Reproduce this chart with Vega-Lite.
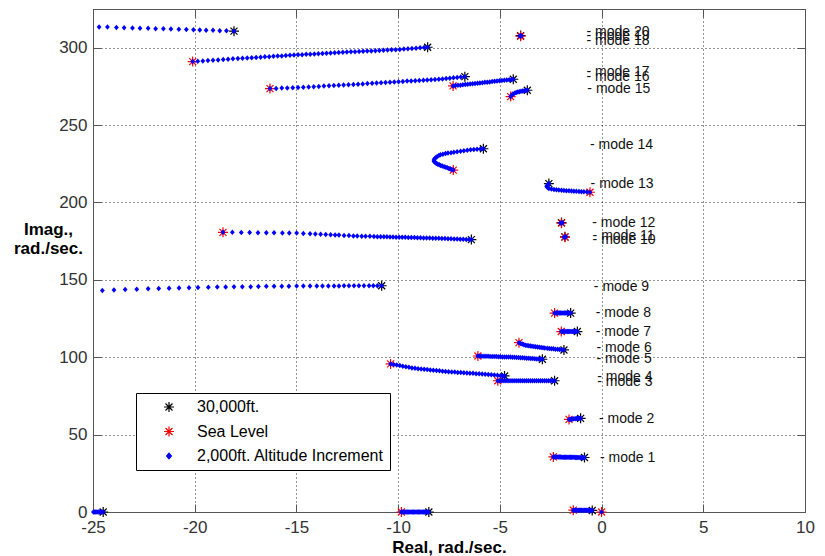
{
"$schema": "https://vega.github.io/schema/vega-lite/v6.json",
"width": 712, "height": 503,
"autosize": "none",
"padding": {"left": 93, "top": 9, "right": 20, "bottom": 44},
"background": "white",
"config": {
  "view": {"stroke": "#555", "strokeWidth": 1},
  "font": "Liberation Sans",
  "axis": {"domainColor": "#555", "tickColor": "#555", "labelColor": "#333", "labelFontSize": 17, "labelFont": "Liberation Sans", "gridColor": "#000", "gridDash": [1, 3], "gridOpacity": 0.85, "gridWidth": 1, "tickSize": -8, "titleFont": "Liberation Sans", "titleFontSize": 17, "titleFontWeight": "bold", "titleColor": "#000", "labelFlush": false, "labelOverlap": false, "labelExpr": "toString(datum.value)"},
  "legend": {"orient": "none", "legendX": 43, "legendY": 384, "strokeColor": "#000", "fillColor": "#fff", "padding": 6, "labelFontSize": 16, "labelFont": "Liberation Sans", "labelColor": "#000", "labelLimit": 0, "symbolStrokeWidth": 1.2, "rowPadding": 8.5, "symbolOffset": 19, "labelOffset": 20, "cornerRadius": 0}
},
"datasets": {
"ends": [
{"x":-18.07,"y":310.7,"s":"a"},{"x":-8.55,"y":300.3,"s":"a"},{"x":-6.72,"y":281.3,"s":"a"},{"x":-4.34,"y":279.6,"s":"a"},{"x":-3.65,"y":272.5,"s":"a"},{"x":-3.98,"y":307.8,"s":"a"},{"x":-5.81,"y":234.7,"s":"a"},{"x":-2.59,"y":212.2,"s":"a"},{"x":-1.97,"y":187.0,"s":"a"},{"x":-1.8,"y":177.8,"s":"a"},{"x":-6.4,"y":176.0,"s":"a"},{"x":-10.81,"y":146.2,"s":"a"},{"x":-1.52,"y":128.5,"s":"a"},{"x":-1.19,"y":116.6,"s":"a"},{"x":-1.85,"y":104.7,"s":"a"},{"x":-2.91,"y":98.7,"s":"a"},{"x":-4.77,"y":87.9,"s":"a"},{"x":-2.31,"y":84.8,"s":"a"},{"x":-1.03,"y":60.5,"s":"a"},{"x":-0.84,"y":35.2,"s":"a"},{"x":-24.5,"y":0,"s":"a"},{"x":-8.49,"y":0,"s":"a"},{"x":-0.46,"y":1.0,"s":"a"},
{"x":-20.1,"y":291.0,"s":"b"},{"x":-16.3,"y":273.6,"s":"b"},{"x":-7.3,"y":275.3,"s":"b"},{"x":-4.47,"y":268.4,"s":"b"},{"x":-3.98,"y":307.4,"s":"b"},{"x":-7.29,"y":220.9,"s":"b"},{"x":-0.57,"y":206.6,"s":"b"},{"x":-1.97,"y":186.6,"s":"b"},{"x":-1.8,"y":177.6,"s":"b"},{"x":-18.61,"y":180.7,"s":"b"},{"x":-2.31,"y":128.5,"s":"b"},{"x":-1.98,"y":116.6,"s":"b"},{"x":-4.06,"y":109.4,"s":"b"},{"x":-6.08,"y":100.8,"s":"b"},{"x":-10.37,"y":95.7,"s":"b"},{"x":-5.1,"y":84.8,"s":"b"},{"x":-1.6,"y":59.8,"s":"b"},{"x":-2.37,"y":35.6,"s":"b"},{"x":-9.84,"y":0,"s":"b"},{"x":0.0,"y":0.0,"s":"b"},{"x":-1.39,"y":1.2,"s":"b"}
],
"dots": [
{"x":-24.70,"y":313.4,"s":"c"},{"x":-24.29,"y":313.3,"s":"c"},{"x":-23.85,"y":313.1,"s":"c"},{"x":-23.47,"y":312.9,"s":"c"},{"x":-23.06,"y":312.8,"s":"c"},{"x":-22.69,"y":312.6,"s":"c"},{"x":-22.29,"y":312.5,"s":"c"},{"x":-21.92,"y":312.3,"s":"c"},{"x":-21.54,"y":312.2,"s":"c"},{"x":-21.17,"y":312.0,"s":"c"},{"x":-20.78,"y":311.9,"s":"c"},{"x":-20.41,"y":311.8,"s":"c"},{"x":-20.06,"y":311.6,"s":"c"},{"x":-19.75,"y":311.5,"s":"c"},{"x":-19.44,"y":311.3,"s":"c"},{"x":-19.10,"y":311.2,"s":"c"},{"x":-18.77,"y":311.0,"s":"c"},{"x":-18.44,"y":310.9,"s":"c"},{"x":-18.07,"y":310.7,"s":"c"},
{"x":-20.1,"y":291.0,"s":"c"},{"x":-19.85,"y":291.2,"s":"c"},{"x":-19.6,"y":291.4,"s":"c"},{"x":-19.35,"y":291.7,"s":"c"},{"x":-19.1,"y":291.9,"s":"c"},{"x":-18.85,"y":292.1,"s":"c"},{"x":-18.6,"y":292.3,"s":"c"},{"x":-18.36,"y":292.5,"s":"c"},{"x":-18.12,"y":292.8,"s":"c"},{"x":-17.88,"y":293.0,"s":"c"},{"x":-17.65,"y":293.2,"s":"c"},{"x":-17.42,"y":293.4,"s":"c"},{"x":-17.2,"y":293.5,"s":"c"},{"x":-16.98,"y":293.7,"s":"c"},{"x":-16.76,"y":293.9,"s":"c"},{"x":-16.55,"y":294.1,"s":"c"},{"x":-16.34,"y":294.2,"s":"c"},{"x":-16.13,"y":294.4,"s":"c"},{"x":-15.92,"y":294.6,"s":"c"},{"x":-15.72,"y":294.7,"s":"c"},{"x":-15.52,"y":294.9,"s":"c"},{"x":-15.32,"y":295.1,"s":"c"},{"x":-15.12,"y":295.2,"s":"c"},{"x":-14.92,"y":295.4,"s":"c"},{"x":-14.72,"y":295.5,"s":"c"},{"x":-14.52,"y":295.7,"s":"c"},{"x":-14.32,"y":295.8,"s":"c"},{"x":-14.12,"y":296.0,"s":"c"},{"x":-13.92,"y":296.1,"s":"c"},{"x":-13.72,"y":296.3,"s":"c"},{"x":-13.52,"y":296.4,"s":"c"},{"x":-13.32,"y":296.6,"s":"c"},{"x":-13.12,"y":296.7,"s":"c"},{"x":-12.92,"y":296.9,"s":"c"},{"x":-12.72,"y":297.0,"s":"c"},{"x":-12.52,"y":297.2,"s":"c"},{"x":-12.32,"y":297.3,"s":"c"},{"x":-12.12,"y":297.4,"s":"c"},{"x":-11.92,"y":297.6,"s":"c"},{"x":-11.72,"y":297.7,"s":"c"},{"x":-11.52,"y":297.8,"s":"c"},{"x":-11.32,"y":297.9,"s":"c"},{"x":-11.12,"y":298.1,"s":"c"},{"x":-10.92,"y":298.2,"s":"c"},{"x":-10.72,"y":298.3,"s":"c"},{"x":-10.52,"y":298.5,"s":"c"},{"x":-10.32,"y":298.6,"s":"c"},{"x":-10.12,"y":298.7,"s":"c"},{"x":-9.92,"y":298.9,"s":"c"},{"x":-9.72,"y":299.1,"s":"c"},{"x":-9.52,"y":299.3,"s":"c"},{"x":-9.32,"y":299.5,"s":"c"},{"x":-9.12,"y":299.7,"s":"c"},{"x":-8.92,"y":299.9,"s":"c"},{"x":-8.72,"y":300.1,"s":"c"},{"x":-8.55,"y":300.3,"s":"c"},
{"x":-16.3,"y":273.6,"s":"c"},{"x":-16.0,"y":273.7,"s":"c"},{"x":-15.72,"y":273.9,"s":"c"},{"x":-15.45,"y":274.0,"s":"c"},{"x":-15.18,"y":274.1,"s":"c"},{"x":-14.92,"y":274.3,"s":"c"},{"x":-14.66,"y":274.4,"s":"c"},{"x":-14.4,"y":274.6,"s":"c"},{"x":-14.15,"y":274.8,"s":"c"},{"x":-13.9,"y":275.0,"s":"c"},{"x":-13.65,"y":275.2,"s":"c"},{"x":-13.4,"y":275.4,"s":"c"},{"x":-13.16,"y":275.5,"s":"c"},{"x":-12.92,"y":275.7,"s":"c"},{"x":-12.68,"y":275.9,"s":"c"},{"x":-12.44,"y":276.0,"s":"c"},{"x":-12.2,"y":276.2,"s":"c"},{"x":-11.97,"y":276.4,"s":"c"},{"x":-11.74,"y":276.6,"s":"c"},{"x":-11.51,"y":276.8,"s":"c"},{"x":-11.28,"y":277.0,"s":"c"},{"x":-11.06,"y":277.2,"s":"c"},{"x":-10.84,"y":277.3,"s":"c"},{"x":-10.62,"y":277.5,"s":"c"},{"x":-10.4,"y":277.7,"s":"c"},{"x":-10.19,"y":277.8,"s":"c"},{"x":-9.98,"y":278.0,"s":"c"},{"x":-9.77,"y":278.2,"s":"c"},{"x":-9.56,"y":278.4,"s":"c"},{"x":-9.36,"y":278.5,"s":"c"},{"x":-9.16,"y":278.7,"s":"c"},{"x":-8.96,"y":278.8,"s":"c"},{"x":-8.76,"y":279.0,"s":"c"},{"x":-8.57,"y":279.1,"s":"c"},{"x":-8.38,"y":279.3,"s":"c"},{"x":-8.19,"y":279.4,"s":"c"},{"x":-8.0,"y":279.6,"s":"c"},{"x":-7.82,"y":279.8,"s":"c"},{"x":-7.64,"y":280.1,"s":"c"},{"x":-7.46,"y":280.3,"s":"c"},{"x":-7.28,"y":280.5,"s":"c"},{"x":-7.1,"y":280.8,"s":"c"},{"x":-6.92,"y":281.0,"s":"c"},{"x":-6.72,"y":281.3,"s":"c"},
{"x":-7.3,"y":275.3,"s":"c"},{"x":-7.18,"y":275.5,"s":"c"},{"x":-7.06,"y":275.7,"s":"c"},{"x":-6.94,"y":275.8,"s":"c"},{"x":-6.82,"y":276.0,"s":"c"},{"x":-6.7,"y":276.2,"s":"c"},{"x":-6.58,"y":276.4,"s":"c"},{"x":-6.46,"y":276.5,"s":"c"},{"x":-6.34,"y":276.7,"s":"c"},{"x":-6.22,"y":276.9,"s":"c"},{"x":-6.1,"y":277.1,"s":"c"},{"x":-5.98,"y":277.2,"s":"c"},{"x":-5.86,"y":277.4,"s":"c"},{"x":-5.74,"y":277.6,"s":"c"},{"x":-5.62,"y":277.7,"s":"c"},{"x":-5.5,"y":277.9,"s":"c"},{"x":-5.38,"y":278.1,"s":"c"},{"x":-5.26,"y":278.3,"s":"c"},{"x":-5.14,"y":278.4,"s":"c"},{"x":-5.02,"y":278.6,"s":"c"},{"x":-4.9,"y":278.8,"s":"c"},{"x":-4.78,"y":279.0,"s":"c"},{"x":-4.66,"y":279.1,"s":"c"},{"x":-4.54,"y":279.3,"s":"c"},{"x":-4.42,"y":279.5,"s":"c"},{"x":-4.34,"y":279.6,"s":"c"},
{"x":-4.47,"y":268.4,"s":"c"},{"x":-4.42,"y":269.3,"s":"c"},{"x":-4.36,"y":270.0,"s":"c"},{"x":-4.28,"y":270.6,"s":"c"},{"x":-4.2,"y":271.0,"s":"c"},{"x":-4.12,"y":271.3,"s":"c"},{"x":-4.04,"y":271.6,"s":"c"},{"x":-3.96,"y":271.8,"s":"c"},{"x":-3.88,"y":272.0,"s":"c"},{"x":-3.8,"y":272.2,"s":"c"},{"x":-3.72,"y":272.4,"s":"c"},{"x":-3.65,"y":272.5,"s":"c"},
{"x":-4.02,"y":307.5,"s":"c"},{"x":-3.98,"y":307.6,"s":"c"},{"x":-3.94,"y":307.7,"s":"c"},
{"x":-7.29,"y":220.9,"s":"c"},{"x":-7.36,"y":221.3,"s":"c"},{"x":-7.43,"y":221.7,"s":"c"},{"x":-7.5,"y":222.0,"s":"c"},{"x":-7.58,"y":222.4,"s":"c"},{"x":-7.66,"y":222.8,"s":"c"},{"x":-7.74,"y":223.1,"s":"c"},{"x":-7.83,"y":223.5,"s":"c"},{"x":-7.91,"y":223.9,"s":"c"},{"x":-7.98,"y":224.3,"s":"c"},{"x":-8.05,"y":224.7,"s":"c"},{"x":-8.11,"y":225.1,"s":"c"},{"x":-8.16,"y":225.6,"s":"c"},{"x":-8.2,"y":226.1,"s":"c"},{"x":-8.24,"y":226.7,"s":"c"},{"x":-8.24,"y":227.4,"s":"c"},{"x":-8.21,"y":228.2,"s":"c"},{"x":-8.16,"y":228.9,"s":"c"},{"x":-8.09,"y":229.6,"s":"c"},{"x":-8.0,"y":230.4,"s":"c"},{"x":-7.92,"y":230.8,"s":"c"},{"x":-7.8,"y":231.2,"s":"c"},{"x":-7.67,"y":231.7,"s":"c"},{"x":-7.55,"y":231.9,"s":"c"},{"x":-7.4,"y":232.2,"s":"c"},{"x":-7.26,"y":232.5,"s":"c"},{"x":-7.1,"y":232.8,"s":"c"},{"x":-6.93,"y":233.1,"s":"c"},{"x":-6.77,"y":233.4,"s":"c"},{"x":-6.6,"y":233.7,"s":"c"},{"x":-6.44,"y":234.0,"s":"c"},{"x":-6.28,"y":234.3,"s":"c"},{"x":-6.12,"y":234.4,"s":"c"},{"x":-5.96,"y":234.6,"s":"c"},{"x":-5.81,"y":234.7,"s":"c"},
{"x":-2.59,"y":212.2,"s":"c"},{"x":-2.64,"y":211.3,"s":"c"},{"x":-2.70,"y":210.5,"s":"c"},{"x":-2.66,"y":209.7,"s":"c"},{"x":-2.59,"y":209.0,"s":"c"},{"x":-2.47,"y":208.7,"s":"c"},{"x":-2.34,"y":208.4,"s":"c"},{"x":-2.22,"y":208.2,"s":"c"},{"x":-2.1,"y":208.0,"s":"c"},{"x":-1.97,"y":207.9,"s":"c"},{"x":-1.85,"y":207.7,"s":"c"},{"x":-1.73,"y":207.6,"s":"c"},{"x":-1.6,"y":207.5,"s":"c"},{"x":-1.48,"y":207.4,"s":"c"},{"x":-1.36,"y":207.3,"s":"c"},{"x":-1.24,"y":207.2,"s":"c"},{"x":-1.11,"y":207.1,"s":"c"},{"x":-0.99,"y":207.0,"s":"c"},{"x":-0.87,"y":206.9,"s":"c"},{"x":-0.72,"y":206.8,"s":"c"},{"x":-0.57,"y":206.6,"s":"c"},
{"x":-2.02,"y":186.7,"s":"c"},{"x":-1.97,"y":186.8,"s":"c"},{"x":-1.92,"y":186.9,"s":"c"},
{"x":-1.84,"y":177.6,"s":"c"},{"x":-1.8,"y":177.7,"s":"c"},{"x":-1.76,"y":177.8,"s":"c"},
{"x":-18.61,"y":180.7,"s":"c"},{"x":-18.15,"y":180.7,"s":"c"},{"x":-17.71,"y":180.6,"s":"c"},{"x":-17.3,"y":180.6,"s":"c"},{"x":-16.89,"y":180.5,"s":"c"},{"x":-16.48,"y":180.5,"s":"c"},{"x":-16.1,"y":180.4,"s":"c"},{"x":-15.69,"y":180.3,"s":"c"},{"x":-15.35,"y":180.3,"s":"c"},{"x":-14.99,"y":180.2,"s":"c"},{"x":-14.66,"y":180.0,"s":"c"},{"x":-14.33,"y":179.8,"s":"c"},{"x":-14.07,"y":179.6,"s":"c"},{"x":-13.81,"y":179.5,"s":"c"},{"x":-13.56,"y":179.3,"s":"c"},{"x":-13.32,"y":179.2,"s":"c"},{"x":-13.1,"y":179.0,"s":"c"},{"x":-12.91,"y":178.9,"s":"c"},{"x":-12.66,"y":178.7,"s":"c"},{"x":-12.42,"y":178.6,"s":"c"},{"x":-12.2,"y":178.4,"s":"c"},{"x":-12.01,"y":178.3,"s":"c"},{"x":-11.79,"y":178.2,"s":"c"},{"x":-11.6,"y":178.1,"s":"c"},{"x":-11.39,"y":178.1,"s":"c"},{"x":-11.19,"y":178.0,"s":"c"},{"x":-11.02,"y":177.9,"s":"c"},{"x":-10.86,"y":177.9,"s":"c"},{"x":-10.7,"y":177.8,"s":"c"},{"x":-10.55,"y":177.8,"s":"c"},{"x":-10.4,"y":177.7,"s":"c"},{"x":-10.25,"y":177.7,"s":"c"},{"x":-10.1,"y":177.6,"s":"c"},{"x":-9.95,"y":177.6,"s":"c"},{"x":-9.8,"y":177.5,"s":"c"},{"x":-9.65,"y":177.5,"s":"c"},{"x":-9.5,"y":177.4,"s":"c"},{"x":-9.35,"y":177.3,"s":"c"},{"x":-9.2,"y":177.3,"s":"c"},{"x":-9.05,"y":177.2,"s":"c"},{"x":-8.9,"y":177.2,"s":"c"},{"x":-8.75,"y":177.1,"s":"c"},{"x":-8.6,"y":177.0,"s":"c"},{"x":-8.45,"y":177.0,"s":"c"},{"x":-8.3,"y":176.9,"s":"c"},{"x":-8.15,"y":176.9,"s":"c"},{"x":-8.0,"y":176.8,"s":"c"},{"x":-7.85,"y":176.7,"s":"c"},{"x":-7.7,"y":176.7,"s":"c"},{"x":-7.55,"y":176.6,"s":"c"},{"x":-7.4,"y":176.5,"s":"c"},{"x":-7.25,"y":176.4,"s":"c"},{"x":-7.1,"y":176.4,"s":"c"},{"x":-6.95,"y":176.3,"s":"c"},{"x":-6.8,"y":176.2,"s":"c"},{"x":-6.65,"y":176.1,"s":"c"},{"x":-6.5,"y":176.1,"s":"c"},{"x":-6.4,"y":176.0,"s":"c"},
{"x":-24.54,"y":143.1,"s":"c"},{"x":-23.97,"y":143.4,"s":"c"},{"x":-23.42,"y":143.7,"s":"c"},{"x":-22.85,"y":144.0,"s":"c"},{"x":-22.29,"y":144.2,"s":"c"},{"x":-21.77,"y":144.4,"s":"c"},{"x":-21.26,"y":144.6,"s":"c"},{"x":-20.77,"y":144.8,"s":"c"},{"x":-20.28,"y":144.9,"s":"c"},{"x":-19.84,"y":145.0,"s":"c"},{"x":-19.33,"y":145.2,"s":"c"},{"x":-18.89,"y":145.3,"s":"c"},{"x":-18.48,"y":145.4,"s":"c"},{"x":-18.07,"y":145.5,"s":"c"},{"x":-17.66,"y":145.6,"s":"c"},{"x":-17.25,"y":145.6,"s":"c"},{"x":-16.87,"y":145.7,"s":"c"},{"x":-16.48,"y":145.8,"s":"c"},{"x":-16.1,"y":145.8,"s":"c"},{"x":-15.72,"y":145.9,"s":"c"},{"x":-15.37,"y":145.9,"s":"c"},{"x":-14.99,"y":146.0,"s":"c"},{"x":-14.66,"y":146.0,"s":"c"},{"x":-14.33,"y":146.0,"s":"c"},{"x":-14.0,"y":146.1,"s":"c"},{"x":-13.72,"y":146.1,"s":"c"},{"x":-13.43,"y":146.1,"s":"c"},{"x":-13.15,"y":146.1,"s":"c"},{"x":-12.91,"y":146.1,"s":"c"},{"x":-12.66,"y":146.2,"s":"c"},{"x":-12.42,"y":146.2,"s":"c"},{"x":-12.17,"y":146.2,"s":"c"},{"x":-11.93,"y":146.2,"s":"c"},{"x":-11.68,"y":146.2,"s":"c"},{"x":-11.43,"y":146.2,"s":"c"},{"x":-11.22,"y":146.2,"s":"c"},{"x":-11.02,"y":146.2,"s":"c"},{"x":-10.81,"y":146.2,"s":"c"},
{"x":-2.31,"y":128.5,"s":"c"},{"x":-2.25,"y":128.5,"s":"c"},{"x":-2.19,"y":128.5,"s":"c"},{"x":-2.13,"y":128.5,"s":"c"},{"x":-2.07,"y":128.5,"s":"c"},{"x":-2.01,"y":128.5,"s":"c"},{"x":-1.95,"y":128.5,"s":"c"},{"x":-1.89,"y":128.5,"s":"c"},{"x":-1.83,"y":128.5,"s":"c"},{"x":-1.77,"y":128.5,"s":"c"},{"x":-1.71,"y":128.5,"s":"c"},{"x":-1.65,"y":128.5,"s":"c"},{"x":-1.59,"y":128.5,"s":"c"},{"x":-1.52,"y":128.5,"s":"c"},
{"x":-1.98,"y":116.6,"s":"c"},{"x":-1.92,"y":116.6,"s":"c"},{"x":-1.86,"y":116.6,"s":"c"},{"x":-1.8,"y":116.6,"s":"c"},{"x":-1.74,"y":116.6,"s":"c"},{"x":-1.68,"y":116.6,"s":"c"},{"x":-1.62,"y":116.6,"s":"c"},{"x":-1.56,"y":116.6,"s":"c"},{"x":-1.5,"y":116.6,"s":"c"},{"x":-1.44,"y":116.6,"s":"c"},{"x":-1.38,"y":116.6,"s":"c"},{"x":-1.32,"y":116.6,"s":"c"},{"x":-1.26,"y":116.6,"s":"c"},{"x":-1.19,"y":116.6,"s":"c"},
{"x":-4.06,"y":109.4,"s":"c"},{"x":-3.98,"y":108.9,"s":"c"},{"x":-3.9,"y":108.5,"s":"c"},{"x":-3.82,"y":108.0,"s":"c"},{"x":-3.74,"y":107.8,"s":"c"},{"x":-3.66,"y":107.6,"s":"c"},{"x":-3.58,"y":107.4,"s":"c"},{"x":-3.5,"y":107.3,"s":"c"},{"x":-3.42,"y":107.1,"s":"c"},{"x":-3.33,"y":106.9,"s":"c"},{"x":-3.24,"y":106.7,"s":"c"},{"x":-3.15,"y":106.6,"s":"c"},{"x":-3.06,"y":106.4,"s":"c"},{"x":-2.97,"y":106.3,"s":"c"},{"x":-2.88,"y":106.1,"s":"c"},{"x":-2.79,"y":106.0,"s":"c"},{"x":-2.67,"y":105.8,"s":"c"},{"x":-2.57,"y":105.7,"s":"c"},{"x":-2.47,"y":105.5,"s":"c"},{"x":-2.37,"y":105.4,"s":"c"},{"x":-2.27,"y":105.2,"s":"c"},{"x":-2.16,"y":105.1,"s":"c"},{"x":-2.06,"y":105.0,"s":"c"},{"x":-1.95,"y":104.8,"s":"c"},{"x":-1.85,"y":104.7,"s":"c"},
{"x":-6.08,"y":100.8,"s":"c"},{"x":-5.98,"y":100.8,"s":"c"},{"x":-5.88,"y":100.7,"s":"c"},{"x":-5.78,"y":100.7,"s":"c"},{"x":-5.68,"y":100.6,"s":"c"},{"x":-5.58,"y":100.6,"s":"c"},{"x":-5.48,"y":100.5,"s":"c"},{"x":-5.38,"y":100.5,"s":"c"},{"x":-5.28,"y":100.4,"s":"c"},{"x":-5.18,"y":100.4,"s":"c"},{"x":-5.08,"y":100.3,"s":"c"},{"x":-4.98,"y":100.3,"s":"c"},{"x":-4.88,"y":100.2,"s":"c"},{"x":-4.78,"y":100.2,"s":"c"},{"x":-4.68,"y":100.2,"s":"c"},{"x":-4.58,"y":100.1,"s":"c"},{"x":-4.48,"y":100.1,"s":"c"},{"x":-4.38,"y":100.0,"s":"c"},{"x":-4.28,"y":100.0,"s":"c"},{"x":-4.18,"y":99.9,"s":"c"},{"x":-4.08,"y":99.8,"s":"c"},{"x":-3.98,"y":99.7,"s":"c"},{"x":-3.88,"y":99.6,"s":"c"},{"x":-3.78,"y":99.5,"s":"c"},{"x":-3.68,"y":99.4,"s":"c"},{"x":-3.58,"y":99.3,"s":"c"},{"x":-3.48,"y":99.2,"s":"c"},{"x":-3.38,"y":99.1,"s":"c"},{"x":-3.28,"y":99.0,"s":"c"},{"x":-3.18,"y":98.9,"s":"c"},{"x":-3.08,"y":98.8,"s":"c"},{"x":-2.98,"y":98.8,"s":"c"},{"x":-2.91,"y":98.7,"s":"c"},
{"x":-10.37,"y":95.7,"s":"c"},{"x":-10.22,"y":95.3,"s":"c"},{"x":-10.07,"y":95.0,"s":"c"},{"x":-9.92,"y":94.6,"s":"c"},{"x":-9.77,"y":94.2,"s":"c"},{"x":-9.62,"y":93.9,"s":"c"},{"x":-9.47,"y":93.5,"s":"c"},{"x":-9.32,"y":93.1,"s":"c"},{"x":-9.17,"y":92.8,"s":"c"},{"x":-9.02,"y":92.6,"s":"c"},{"x":-8.87,"y":92.4,"s":"c"},{"x":-8.72,"y":92.2,"s":"c"},{"x":-8.57,"y":92.0,"s":"c"},{"x":-8.42,"y":91.8,"s":"c"},{"x":-8.27,"y":91.6,"s":"c"},{"x":-8.12,"y":91.4,"s":"c"},{"x":-7.97,"y":91.2,"s":"c"},{"x":-7.82,"y":91.0,"s":"c"},{"x":-7.67,"y":90.8,"s":"c"},{"x":-7.52,"y":90.6,"s":"c"},{"x":-7.37,"y":90.5,"s":"c"},{"x":-7.22,"y":90.4,"s":"c"},{"x":-7.07,"y":90.2,"s":"c"},{"x":-6.92,"y":90.1,"s":"c"},{"x":-6.77,"y":90.0,"s":"c"},{"x":-6.62,"y":89.8,"s":"c"},{"x":-6.47,"y":89.7,"s":"c"},{"x":-6.32,"y":89.6,"s":"c"},{"x":-6.17,"y":89.4,"s":"c"},{"x":-6.02,"y":89.3,"s":"c"},{"x":-5.87,"y":89.1,"s":"c"},{"x":-5.72,"y":89.0,"s":"c"},{"x":-5.57,"y":88.8,"s":"c"},{"x":-5.42,"y":88.6,"s":"c"},{"x":-5.27,"y":88.5,"s":"c"},{"x":-5.12,"y":88.3,"s":"c"},{"x":-4.97,"y":88.1,"s":"c"},{"x":-4.87,"y":88.0,"s":"c"},{"x":-4.77,"y":87.9,"s":"c"},
{"x":-5.1,"y":84.8,"s":"c"},{"x":-5.0,"y":84.8,"s":"c"},{"x":-4.9,"y":84.8,"s":"c"},{"x":-4.8,"y":84.8,"s":"c"},{"x":-4.7,"y":84.8,"s":"c"},{"x":-4.6,"y":84.8,"s":"c"},{"x":-4.5,"y":84.8,"s":"c"},{"x":-4.4,"y":84.8,"s":"c"},{"x":-4.3,"y":84.8,"s":"c"},{"x":-4.2,"y":84.8,"s":"c"},{"x":-4.1,"y":84.8,"s":"c"},{"x":-4.0,"y":84.8,"s":"c"},{"x":-3.9,"y":84.8,"s":"c"},{"x":-3.8,"y":84.8,"s":"c"},{"x":-3.7,"y":84.8,"s":"c"},{"x":-3.6,"y":84.8,"s":"c"},{"x":-3.5,"y":84.8,"s":"c"},{"x":-3.4,"y":84.8,"s":"c"},{"x":-3.3,"y":84.8,"s":"c"},{"x":-3.2,"y":84.8,"s":"c"},{"x":-3.1,"y":84.8,"s":"c"},{"x":-3.0,"y":84.8,"s":"c"},{"x":-2.9,"y":84.8,"s":"c"},{"x":-2.8,"y":84.8,"s":"c"},{"x":-2.7,"y":84.8,"s":"c"},{"x":-2.6,"y":84.8,"s":"c"},{"x":-2.5,"y":84.8,"s":"c"},{"x":-2.4,"y":84.8,"s":"c"},{"x":-2.31,"y":84.8,"s":"c"},
{"x":-1.6,"y":59.8,"s":"c"},{"x":-1.54,"y":59.9,"s":"c"},{"x":-1.48,"y":60.0,"s":"c"},{"x":-1.42,"y":60.1,"s":"c"},{"x":-1.36,"y":60.2,"s":"c"},{"x":-1.3,"y":60.3,"s":"c"},{"x":-1.24,"y":60.4,"s":"c"},{"x":-1.18,"y":60.4,"s":"c"},{"x":-1.12,"y":60.5,"s":"c"},{"x":-1.06,"y":60.5,"s":"c"},{"x":-1.03,"y":60.5,"s":"c"},
{"x":-2.37,"y":35.6,"s":"c"},{"x":-2.31,"y":35.6,"s":"c"},{"x":-2.25,"y":35.6,"s":"c"},{"x":-2.19,"y":35.5,"s":"c"},{"x":-2.13,"y":35.5,"s":"c"},{"x":-2.07,"y":35.5,"s":"c"},{"x":-2.01,"y":35.5,"s":"c"},{"x":-1.95,"y":35.4,"s":"c"},{"x":-1.89,"y":35.4,"s":"c"},{"x":-1.83,"y":35.4,"s":"c"},{"x":-1.77,"y":35.4,"s":"c"},{"x":-1.71,"y":35.4,"s":"c"},{"x":-1.65,"y":35.3,"s":"c"},{"x":-1.59,"y":35.3,"s":"c"},{"x":-1.53,"y":35.3,"s":"c"},{"x":-1.47,"y":35.3,"s":"c"},{"x":-1.41,"y":35.3,"s":"c"},{"x":-1.35,"y":35.3,"s":"c"},{"x":-1.29,"y":35.2,"s":"c"},{"x":-1.23,"y":35.2,"s":"c"},{"x":-1.17,"y":35.2,"s":"c"},{"x":-1.11,"y":35.2,"s":"c"},{"x":-1.05,"y":35.2,"s":"c"},{"x":-0.99,"y":35.1,"s":"c"},{"x":-0.93,"y":35.1,"s":"c"},{"x":-0.87,"y":35.1,"s":"c"},{"x":-0.84,"y":35.2,"s":"c"},
{"x":-24.98,"y":0,"s":"c"},{"x":-24.92,"y":0,"s":"c"},{"x":-24.86,"y":0,"s":"c"},{"x":-24.8,"y":0,"s":"c"},{"x":-24.74,"y":0,"s":"c"},{"x":-24.68,"y":0,"s":"c"},{"x":-24.62,"y":0,"s":"c"},{"x":-24.56,"y":0,"s":"c"},{"x":-24.5,"y":0,"s":"c"},
{"x":-9.84,"y":0,"s":"c"},{"x":-9.78,"y":0,"s":"c"},{"x":-9.72,"y":0,"s":"c"},{"x":-9.66,"y":0,"s":"c"},{"x":-9.6,"y":0,"s":"c"},{"x":-9.54,"y":0,"s":"c"},{"x":-9.48,"y":0,"s":"c"},{"x":-9.42,"y":0,"s":"c"},{"x":-9.36,"y":0,"s":"c"},{"x":-9.3,"y":0,"s":"c"},{"x":-9.24,"y":0,"s":"c"},{"x":-9.18,"y":0,"s":"c"},{"x":-9.12,"y":0,"s":"c"},{"x":-9.06,"y":0,"s":"c"},{"x":-9.0,"y":0,"s":"c"},{"x":-8.94,"y":0,"s":"c"},{"x":-8.88,"y":0,"s":"c"},{"x":-8.82,"y":0,"s":"c"},{"x":-8.76,"y":0,"s":"c"},{"x":-8.7,"y":0,"s":"c"},{"x":-8.64,"y":0,"s":"c"},{"x":-8.58,"y":0,"s":"c"},{"x":-8.52,"y":0,"s":"c"},{"x":-8.49,"y":0,"s":"c"},
{"x":-1.39,"y":1.2,"s":"c"},{"x":-1.33,"y":1.2,"s":"c"},{"x":-1.27,"y":1.2,"s":"c"},{"x":-1.21,"y":1.2,"s":"c"},{"x":-1.15,"y":1.2,"s":"c"},{"x":-1.09,"y":1.2,"s":"c"},{"x":-1.03,"y":1.2,"s":"c"},{"x":-0.97,"y":1.2,"s":"c"},{"x":-0.91,"y":1.1,"s":"c"},{"x":-0.85,"y":1.1,"s":"c"},{"x":-0.79,"y":1.1,"s":"c"},{"x":-0.73,"y":1.1,"s":"c"},{"x":-0.67,"y":1.1,"s":"c"},{"x":-0.61,"y":1.0,"s":"c"},{"x":-0.55,"y":1.0,"s":"c"},{"x":-0.49,"y":1.0,"s":"c"},{"x":-0.46,"y":1.0,"s":"c"},{"x":0.0,"y":0.0,"s":"c"}
],
"labels": [
{"t":"- mode 20","x":-0.74,"y":310.4},{"t":"- mode 19","x":-0.74,"y":307.6},{"t":"- mode 18","x":-0.74,"y":304.6},{"t":"- mode 17","x":-0.74,"y":284.3},{"t":"- mode 16","x":-0.74,"y":281.3},{"t":"- mode 15","x":-0.70,"y":273.1},{"t":"- mode 14","x":-0.57,"y":237.1},{"t":"- mode 13","x":-0.54,"y":212.0},{"t":"- mode 12","x":-0.46,"y":186.8},{"t":"- mode 11","x":-0.44,"y":178.6},{"t":"- mode 10","x":-0.44,"y":175.5},{"t":"- mode 9","x":-0.38,"y":145.3},{"t":"- mode 8","x":-0.29,"y":128.9},{"t":"- mode 7","x":-0.29,"y":116.6},{"t":"- mode 6","x":-0.25,"y":105.8},{"t":"- mode 5","x":-0.25,"y":98.9},{"t":"- mode 4","x":-0.21,"y":87.0},{"t":"- mode 3","x":-0.21,"y":84.2},{"t":"- mode 2","x":-0.13,"y":59.8},{"t":"- mode 1","x":-0.08,"y":35.0}
]
},
"layer": [
{"data": {"name": "ends"},
 "mark": {"type": "point", "filled": false, "opacity": 1, "strokeWidth": 1.2, "size": 100},
 "encoding": {
  "x": {"field": "x", "type": "quantitative", "scale": {"domain": [-25, 10], "nice": false, "zero": false}, "axis": {"orient": "bottom", "values": [-25, -20, -15, -10, -5, 0, 5, 10], "grid": true, "labelPadding": 15, "title": "Real, rad./sec.", "titleY": 35, "titleBaseline": "middle"}},
  "y": {"field": "y", "type": "quantitative", "scale": {"domain": [0, 325], "nice": false, "zero": false}, "axis": {"orient": "left", "values": [0, 50, 100, 150, 200, 250, 300], "grid": true, "labelPadding": 14, "title": ["Imag.,", "rad./sec."], "titleAngle": 0, "titleAlign": "center", "titleBaseline": "middle", "titleX": -45, "titleY": 220.5, "titleLineHeight": 19}},
  "color": {"field": "s", "type": "nominal", "scale": {"domain": ["a", "b", "c"], "range": ["#000000", "#ff0000", "#0000ff"]}, "legend": {"title": null, "labelExpr": "datum.label == 'a' ? '30,000ft.' : datum.label == 'b' ? 'Sea Level' : '2,000ft. Altitude Increment'"}},
  "shape": {"field": "s", "type": "nominal", "scale": {"domain": ["a", "b", "c"], "range": ["M-1,0L1,0M0,-1L0,1M-0.7,-0.7L0.7,0.7M-0.7,0.7L0.7,-0.7", "M-1,0L1,0M0,-1L0,1M-0.7,-0.7L0.7,0.7M-0.7,0.7L0.7,-0.7", "M0,-0.55L0.48,0L0,0.55L-0.48,0Z"]}, "legend": {"title": null, "labelExpr": "datum.label == 'a' ? '30,000ft.' : datum.label == 'b' ? 'Sea Level' : '2,000ft. Altitude Increment'"}}
 }},
{"data": {"name": "dots"},
 "mark": {"type": "point", "filled": true, "opacity": 1, "strokeWidth": 0.8, "size": 100},
 "encoding": {
  "x": {"field": "x", "type": "quantitative", "axis": null},
  "y": {"field": "y", "type": "quantitative", "axis": null},
  "color": {"field": "s", "type": "nominal"},
  "shape": {"field": "s", "type": "nominal"}
 }},
{"data": {"name": "labels"},
 "mark": {"type": "text", "align": "left", "baseline": "middle", "fontSize": 14, "font": "Liberation Sans", "color": "#111"},
 "encoding": {
  "x": {"field": "x", "type": "quantitative", "axis": {"orient": "top", "values": [-25, -20, -15, -10, -5, 0, 5, 10], "labels": false, "title": null, "grid": false}},
  "y": {"field": "y", "type": "quantitative", "axis": {"orient": "right", "values": [0, 50, 100, 150, 200, 250, 300], "labels": false, "title": null, "grid": false}},
  "text": {"field": "t"}
 }}
],
"resolve": {"axis": {"x": "independent", "y": "independent"}}
}
